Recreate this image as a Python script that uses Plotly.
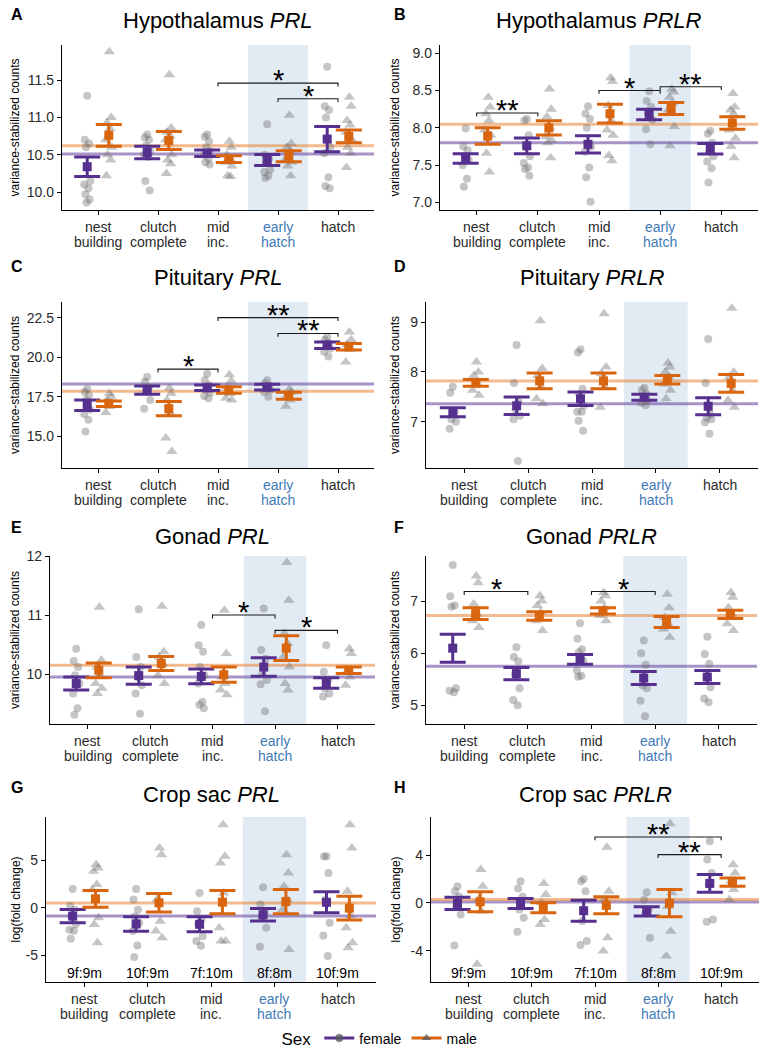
import plotly.graph_objects as go

W, H = 762, 1051
FONT = "Liberation Sans, Arial, Helvetica, sans-serif"

# ---------------- categories / labels ----------------
stage_labels = [["nest", "building"], ["clutch", "complete"], ["mid", "inc."], ["early", "hatch"], ["hatch"]]
highlight_stage = 3
count_labels = ["9f:9m", "10f:9m", "7f:10m", "8f:8m", "10f:9m"]
sex_labels = ["female", "male"]

# ---------------- A: Hypothalamus PRL ----------------
A_yticks = [10.0, 10.5, 11.0, 11.5]
A_f_mean = [10.34, 10.53, 10.52, 10.43, 10.71]
A_f_se = [0.13, 0.085, 0.045, 0.075, 0.17]
A_m_mean = [10.76, 10.69, 10.44, 10.48, 10.745]
A_m_se = [0.145, 0.12, 0.045, 0.075, 0.085]
A_hline = [10.51, 10.62]
A_f_pts = [[11.29, 10.70, 10.65, 10.60, 10.15, 10.10, 10.05, 9.97, 9.90, 9.86],
           [10.77, 10.73, 10.70, 10.62, 10.55, 10.50, 10.47, 10.15, 10.02],
           [10.77, 10.74, 10.68, 10.60, 10.55, 10.50, 10.45, 10.40, 10.37],
           [10.91, 10.50, 10.45, 10.40, 10.30, 10.27, 10.22, 10.19],
           [11.68, 11.15, 11.10, 11.00, 10.60, 10.52, 10.20, 10.08, 10.05]]
A_m_pts = [[11.88, 11.00, 10.93, 10.85, 10.70, 10.60, 10.50, 10.43, 10.22],
           [11.57, 10.86, 10.80, 10.75, 10.70, 10.50, 10.43, 10.38, 10.25],
           [10.68, 10.60, 10.50, 10.45, 10.40, 10.35, 10.22, 10.21],
           [11.03, 10.65, 10.60, 10.55, 10.45, 10.40, 10.35, 10.22],
           [11.27, 11.15, 10.96, 10.90, 10.80, 10.70, 10.60, 10.52, 10.33]]
A_sig = [(3, 5, 11.46, "*"), (4, 5, 11.25, "*")]

# ---------------- B: Hypothalamus PRLR ----------------
B_yticks = [7.0, 7.5, 8.0, 8.5, 9.0]
B_f_mean = [7.59, 7.76, 7.78, 8.18, 7.72]
B_f_se = [0.065, 0.105, 0.115, 0.07, 0.07]
B_m_mean = [7.89, 8.00, 8.19, 8.26, 8.065]
B_m_se = [0.11, 0.095, 0.125, 0.08, 0.085]
B_hline = [7.80, 8.05]
B_f_pts = [[7.99, 7.75, 7.70, 7.62, 7.57, 7.50, 7.32, 7.21],
           [8.12, 8.10, 7.90, 7.75, 7.62, 7.53, 7.47, 7.45, 7.36],
           [8.29, 8.19, 8.12, 8.00, 7.75, 7.68, 7.47, 7.34, 7.01],
           [8.49, 8.36, 8.28, 8.20, 8.11, 7.98, 7.78],
           [7.96, 7.92, 7.80, 7.68, 7.62, 7.55, 7.46, 7.27]]
B_m_pts = [[8.41, 8.28, 8.19, 8.10, 7.97, 7.90, 7.66, 7.41],
           [8.52, 8.25, 8.15, 8.00, 7.88, 7.83, 7.80, 7.60],
           [8.67, 8.62, 8.30, 8.10, 7.97, 7.90, 7.63, 7.56],
           [8.52, 8.48, 8.41, 8.33, 8.24, 8.02, 7.76],
           [8.46, 8.28, 8.24, 8.19, 7.97, 7.86, 7.75, 7.60]]
B_sig = [(1, 2, 8.20, "**"), (3, 4, 8.50, "*"), (4, 5, 8.55, "**")]

# ---------------- C: Pituitary PRL ----------------
C_yticks = [15.0, 17.5, 20.0, 22.5]
C_f_mean = [16.97, 17.92, 18.07, 18.11, 20.76]
C_f_se = [0.33, 0.26, 0.18, 0.18, 0.21]
C_m_mean = [17.06, 16.75, 17.93, 17.57, 20.66]
C_m_se = [0.18, 0.45, 0.21, 0.22, 0.21]
C_hline = [18.31, 17.85]
C_f_pts = [[18.0, 17.8, 17.6, 17.3, 16.7, 16.4, 16.05, 15.3],
           [18.75, 18.45, 18.1, 17.85, 17.3, 16.75],
           [18.95, 18.55, 18.25, 17.95, 17.75, 17.55, 17.4],
           [18.55, 18.35, 18.2, 18.1, 17.95, 17.8, 17.5],
           [21.3, 21.1, 20.9, 20.7, 20.55, 20.35, 20.05]]
C_m_pts = [[17.7, 17.5, 17.3, 16.9, 16.5],
           [18.05, 17.7, 17.3, 16.5, 14.9, 14.05],
           [18.9, 18.5, 18.1, 17.7, 17.4, 17.3],
           [18.0, 17.8, 17.6, 17.3, 16.9],
           [21.6, 21.1, 20.8, 20.5, 19.7]]
C_sig = [(2, 3, 19.25, "*"), (3, 5, 22.5, "**"), (4, 5, 21.5, "**")]

# ---------------- D: Pituitary PRLR ----------------
D_yticks = [7, 8, 9]
D_f_mean = [7.19, 7.32, 7.46, 7.49, 7.31]
D_f_se = [0.09, 0.175, 0.135, 0.06, 0.17]
D_m_mean = [7.78, 7.82, 7.82, 7.845, 7.77]
D_m_se = [0.07, 0.16, 0.16, 0.085, 0.18]
D_hline = [7.36, 7.82]
D_f_pts = [[7.70, 7.58, 7.20, 7.05, 7.00, 6.86],
           [8.54, 7.78, 7.40, 7.25, 7.12, 7.05, 6.21],
           [8.45, 8.39, 7.66, 7.55, 7.32, 7.20, 7.20, 7.02, 6.82],
           [7.68, 7.63, 7.56, 7.50, 7.43, 7.38, 7.33],
           [8.66, 7.78, 7.15, 7.08, 7.05, 6.99, 6.76]]
D_m_pts = [[8.20, 8.00, 7.93, 7.76, 7.63, 7.53],
           [9.03, 8.07, 7.93, 7.70, 7.46, 7.36],
           [9.17, 8.10, 7.97, 7.70, 7.29],
           [8.18, 8.10, 8.00, 7.90, 7.76, 7.63, 7.46],
           [9.28, 8.00, 7.90, 7.63, 7.43, 7.29]]
D_sig = []

# ---------------- E: Gonad PRL ----------------
E_yticks = [10, 11, 12]
E_f_mean = [9.84, 9.975, 9.96, 10.12, 9.85]
E_f_se = [0.11, 0.145, 0.125, 0.155, 0.09]
E_m_mean = [10.065, 10.18, 9.99, 10.44, 10.065]
E_m_se = [0.125, 0.12, 0.13, 0.21, 0.055]
E_hline = [9.95, 10.15]
E_f_pts = [[10.43, 10.22, 10.12, 9.98, 9.84, 9.67, 9.42, 9.31],
           [11.10, 10.29, 10.12, 9.95, 9.81, 9.67, 9.33],
           [10.83, 10.49, 10.38, 10.12, 9.98, 9.84, 9.53, 9.48, 9.42],
           [11.11, 10.41, 10.26, 10.01, 9.90, 9.83, 9.37],
           [10.49, 10.04, 9.90, 9.76, 9.67, 9.62]]
E_m_pts = [[11.13, 10.24, 10.12, 9.98, 9.84, 9.76, 9.67],
           [11.15, 10.38, 10.29, 10.18, 9.98, 9.84],
           [11.08, 10.35, 9.95, 9.84, 9.73, 9.65],
           [11.89, 11.25, 10.69, 10.52, 10.29, 10.12, 9.84, 9.73],
           [10.43, 10.35, 10.04, 9.95, 9.81]]
E_sig = [(3, 4, 11.0, "*"), (4, 5, 10.74, "*")]

# ---------------- F: Gonad PRLR ----------------
F_yticks = [5, 6, 7]
F_f_mean = [6.10, 5.61, 5.885, 5.525, 5.545]
F_f_se = [0.27, 0.12, 0.095, 0.125, 0.125]
F_m_mean = [6.765, 6.72, 6.82, 6.605, 6.75]
F_m_se = [0.115, 0.08, 0.06, 0.105, 0.08]
F_hline = [5.75, 6.73]
F_f_pts = [[7.70, 7.10, 6.92, 6.90, 5.33, 5.28, 5.25],
           [6.12, 5.93, 5.85, 5.60, 5.33, 5.10, 5.00],
           [6.58, 6.28, 6.08, 6.02, 5.86, 5.67, 5.57, 5.55],
           [6.25, 6.00, 5.78, 5.38, 5.33, 5.09, 4.79],
           [6.32, 5.99, 5.80, 5.54, 5.35, 5.13, 5.06]]
F_m_pts = [[7.49, 7.36, 6.95, 6.76, 6.63, 6.50],
           [7.11, 7.01, 6.92, 6.79, 6.63, 6.44],
           [7.17, 7.11, 7.01, 6.88, 6.73, 6.63],
           [7.14, 6.88, 6.69, 6.57, 6.47, 6.31],
           [7.17, 7.08, 6.88, 6.76, 6.57, 6.44]]
F_sig = [(1, 2, 7.19, "*"), (3, 4, 7.19, "*")]

# ---------------- G: Crop sac PRL ----------------
G_yticks = [-5, 0, 5]
G_f_mean = [-0.87, -1.70, -1.73, -0.73, 0.58]
G_f_se = [0.70, 0.755, 0.79, 0.665, 1.10]
G_m_mean = [0.945, 0.53, 0.60, 0.65, -0.035]
G_m_se = [0.875, 0.975, 1.225, 1.275, 1.255]
G_hline = [-0.87, 0.52]
G_f_pts = [[1.99, 0.2, -0.2, -0.9, -1.7, -2.3, -2.4, -3.25],
           [1.99, 0.87, -0.2, -0.9, -1.6, -2.45, -3.95, -5.17],
           [1.57, -0.35, -1.2, -1.75, -3.0, -3.5, -4.0],
           [2.17, 0.35, -0.5, -1.05, -2.1, -4.1],
           [5.42, 5.40, 3.67, 0.87, -1.57, -2.9, -5.07]]
G_m_pts = [[4.55, 4.2, 3.85, 2.45, 1.9, -1.05, -1.75, -3.67],
           [6.29, 5.59, 0.87, -1.4, -2.45, -3.15],
           [8.74, 5.42, 4.72, 1.57, -2.1, -3.5, -3.5],
           [5.59, 3.67, 2.27, 0.87, -0.17, -4.37],
           [8.74, 6.29, 1.75, -0.87, -2.1, -3.67, -4.2]]
G_sig = []

# ---------------- H: Crop sac PRLR ----------------
H_yticks = [-4, 0, 4]
H_f_mean = [-0.05, -0.055, -0.66, -0.72, 1.63]
H_f_se = [0.515, 0.415, 0.875, 0.39, 0.74]
H_m_mean = [0.085, -0.42, -0.21, -0.03, 1.74]
H_m_se = [0.835, 0.42, 0.71, 1.14, 0.35]
H_hline = [0.08, 0.28]
H_f_pts = [[1.39, 0.97, 0.5, -0.28, -0.97, -3.57],
           [1.81, 1.2, 0.5, -0.56, -1.25, -2.42],
           [2.0, 1.81, 0.97, -1.53, -3.2, -3.54],
           [0.89, 0.25, -0.56, -0.9, -2.92],
           [5.15, 3.62, 2.5, 1.53, -1.39, -1.59]]
H_m_pts = [[2.79, 1.39, 0.28, -0.7, -5.15],
           [1.62, 0.7, 0.0, -1.39, -1.81],
           [4.65, 0.97, 0.28, -2.92, -4.04],
           [6.63, 0.84, -0.3, -2.37, -4.46],
           [3.2, 2.5, 1.81, 1.11, 0.28]]
H_sig = [(3, 5, 5.52, "**"), (4, 5, 4.04, "**")]

# ---------------- styling / layout ----------------
COL_F = "#56308f"
COL_M = "#d9650e"
HL_F = "rgba(94,60,153,0.55)"
HL_M = "rgba(232,130,50,0.55)"
PT_COL = "rgba(110,110,110,0.40)"
SHADE = "#e2eaf4"
HILITE = "#3f7ab8"
DODGE = 0.18
JIT_F = [0.0, -0.04, 0.03, -0.02, 0.05, -0.05, 0.02, -0.03, 0.04, -0.01]
JIT_M = [0.01, 0.04, -0.03, 0.02, -0.05, 0.05, -0.02, 0.03, -0.04, 0.0]

VST = "variance-stabilized counts"
LFC = "log(fold change)"

panels = [
    dict(letter="A", tissue="Hypothalamus", gene="PRL", box=(62, 374, 45, 210), yr=[9.76, 11.97],
         yt=A_yticks, fmt="{:.1f}", ytitle=VST, fm=A_f_mean, fs=A_f_se, mm=A_m_mean, ms=A_m_se,
         hl=A_hline, fp=A_f_pts, mp=A_m_pts, sig=A_sig, counts=False),
    dict(letter="B", tissue="Hypothalamus", gene="PRLR", box=(440, 758, 45, 210), yr=[6.90, 9.11],
         yt=B_yticks, fmt="{:.1f}", ytitle=VST, fm=B_f_mean, fs=B_f_se, mm=B_m_mean, ms=B_m_se,
         hl=B_hline, fp=B_f_pts, mp=B_m_pts, sig=B_sig, counts=False),
    dict(letter="C", tissue="Pituitary", gene="PRL", box=(62, 374, 302, 468), yr=[13.0, 23.49],
         yt=C_yticks, fmt="{:.1f}", ytitle=VST, fm=C_f_mean, fs=C_f_se, mm=C_m_mean, ms=C_m_se,
         hl=C_hline, fp=C_f_pts, mp=C_m_pts, sig=C_sig, counts=False),
    dict(letter="D", tissue="Pituitary", gene="PRLR", box=(426, 758, 302, 468), yr=[6.07, 9.405],
         yt=D_yticks, fmt="{:g}", ytitle=VST, fm=D_f_mean, fs=D_f_se, mm=D_m_mean, ms=D_m_se,
         hl=D_hline, fp=D_f_pts, mp=D_m_pts, sig=D_sig, counts=False),
    dict(letter="E", tissue="Gonad", gene="PRL", box=(50, 375, 556, 724), yr=[9.155, 12.0],
         yt=E_yticks, fmt="{:g}", ytitle=VST, fm=E_f_mean, fs=E_f_se, mm=E_m_mean, ms=E_m_se,
         hl=E_hline, fp=E_f_pts, mp=E_m_pts, sig=E_sig, counts=False),
    dict(letter="F", tissue="Gonad", gene="PRLR", box=(426, 757, 556, 724), yr=[4.64, 7.875],
         yt=F_yticks, fmt="{:g}", ytitle=VST, fm=F_f_mean, fs=F_f_se, mm=F_m_mean, ms=F_m_se,
         hl=F_hline, fp=F_f_pts, mp=F_m_pts, sig=F_sig, counts=False),
    dict(letter="G", tissue="Crop sac", gene="PRL", box=(46, 376, 817, 982), yr=[-7.8, 9.55],
         yt=G_yticks, fmt="{:g}", ytitle=LFC, fm=G_f_mean, fs=G_f_se, mm=G_m_mean, ms=G_m_se,
         hl=G_hline, fp=G_f_pts, mp=G_m_pts, sig=G_sig, counts=True),
    dict(letter="H", tissue="Crop sac", gene="PRLR", box=(431, 759, 817, 982), yr=[-6.63, 7.19],
         yt=H_yticks, fmt="{:g}", ytitle=LFC, fm=H_f_mean, fs=H_f_se, mm=H_m_mean, ms=H_m_se,
         hl=H_hline, fp=H_f_pts, mp=H_m_pts, sig=H_sig, counts=True),
]

cats = list(range(1, len(stage_labels) + 1))

fig = go.Figure()
layout_axes = {}
annotations = []
shapes = []

for k, p in enumerate(panels, start=1):
    sfx = "" if k == 1 else str(k)
    xr, yr_ = "x" + sfx, "y" + sfx
    l, r, t, b = p["box"]
    layout_axes["xaxis" + sfx] = dict(
        domain=[l / W, r / W], anchor=yr_, range=[0.4, 5.6], tickvals=cats, showticklabels=False,
        showline=True, linecolor="black", linewidth=1.3, ticks="outside", ticklen=4,
        tickcolor="black", tickwidth=1, showgrid=False, zeroline=False)
    layout_axes["yaxis" + sfx] = dict(
        domain=[1 - b / H, 1 - t / H], anchor=xr, range=p["yr"], tickvals=p["yt"],
        ticktext=[p["fmt"].format(v) for v in p["yt"]],
        showline=True, linecolor="black", linewidth=1.3, ticks="outside", ticklen=4,
        tickcolor="black", tickwidth=1, showgrid=False, zeroline=False,
        tickfont=dict(size=14, color="#2a2a2a", family=FONT))

    # category labels (two tight lines, like ggplot)
    for ci, lines in enumerate(stage_labels):
        col = HILITE if ci == highlight_stage else "#2a2a2a"
        for li, txt in enumerate(lines):
            annotations.append(dict(x=cats[ci], y=1 - (b + 17 + 14.5 * li) / H, xref=xr, yref="paper",
                                    text=txt, showarrow=False, xanchor="center", yanchor="middle",
                                    font=dict(size=14, color=col, family=FONT)))

    # early-hatch highlight band
    shapes.append(dict(type="rect", xref=xr, yref=yr_ + " domain", x0=3.5, x1=4.5, y0=0, y1=1,
                       fillcolor=SHADE, line=dict(width=0), layer="below"))
    # overall sex means
    for val, col in zip(p["hl"], [HL_F, HL_M]):
        shapes.append(dict(type="line", xref=xr + " domain", yref=yr_, x0=0, x1=1, y0=val, y1=val,
                           line=dict(color=col, width=3), layer="below"))

    # individual points
    for pts, off, jit, sym, sz in [(p["fp"], -DODGE, JIT_F, "circle", 8), (p["mp"], DODGE, JIT_M, "triangle-up", 10)]:
        xs, ys = [], []
        for ci, grp in enumerate(pts):
            for j, v in enumerate(grp):
                xs.append(cats[ci] + off + jit[j % len(jit)])
                ys.append(v)
        fig.add_trace(go.Scatter(x=xs, y=ys, xaxis=xr, yaxis=yr_, mode="markers", showlegend=False,
                                 hoverinfo="skip",
                                 marker=dict(symbol=sym, size=sz, color=PT_COL, line=dict(width=0))))

    # mean +/- SE
    for mean, se, off, col in [(p["fm"], p["fs"], -DODGE, COL_F), (p["mm"], p["ms"], DODGE, COL_M)]:
        fig.add_trace(go.Scatter(
            x=[c + off for c in cats], y=mean, xaxis=xr, yaxis=yr_, mode="markers", showlegend=False,
            marker=dict(symbol="square", size=9, color=col),
            error_y=dict(type="data", array=se, visible=True, thickness=3, width=13, color=col)))

    # significance brackets
    span = p["yr"][1] - p["yr"][0]
    tip = 0.02 * span
    for x1, x2, yb, lab in p["sig"]:
        fig.add_trace(go.Scatter(x=[x1, x1, x2, x2], y=[yb - tip, yb, yb, yb - tip], xaxis=xr, yaxis=yr_,
                                 mode="lines", showlegend=False, hoverinfo="skip",
                                 line=dict(color="#1a1a1a", width=1.1)))
        annotations.append(dict(x=(x1 + x2) / 2, y=yb, xref=xr, yref=yr_, text=lab, showarrow=False,
                                yanchor="middle", yshift=3,
                                font=dict(size=29, color="black", family=FONT)))

    # count labels
    if p["counts"]:
        for ci, txt in enumerate(count_labels):
            annotations.append(dict(x=cats[ci], y=0, xref=xr, yref=yr_ + " domain", text=txt,
                                    showarrow=False, yanchor="bottom", yshift=-1,
                                    font=dict(size=14, color="black", family=FONT)))

    # panel title, letter, y-axis title
    row_title_y = {45: 21, 302: 277, 556: 536, 817: 794}[t]
    row_letter_y = {45: 15, 302: 266, 556: 527, 817: 787}[t]
    annotations.append(dict(x=(l + r) / 2 / W, y=1 - row_title_y / H, xref="paper", yref="paper",
                            text="%s <i>%s</i>" % (p["tissue"], p["gene"]), showarrow=False,
                            xanchor="center", yanchor="middle",
                            font=dict(size=22, color="black", family=FONT)))
    left_col = l < 300
    annotations.append(dict(x=(9 if left_col else 392) / W, y=1 - row_letter_y / H, xref="paper", yref="paper",
                            text="<b>%s</b>" % p["letter"], showarrow=False, xanchor="left", yanchor="middle",
                            font=dict(size=16, color="black", family=FONT)))
    annotations.append(dict(x=(15 if left_col else 395) / W, y=1 - (t + b) / 2 / H, xref="paper", yref="paper",
                            text=p["ytitle"], showarrow=False, textangle=-90, xanchor="center",
                            yanchor="middle", font=dict(size=12, color="black", family=FONT)))

# legend entries
for name, col, sym in [(sex_labels[0], COL_F, "circle"), (sex_labels[1], COL_M, "triangle-up")]:
    fig.add_trace(go.Scatter(x=[None], y=[None], mode="lines+markers", name=name,
                             line=dict(color=col, width=3),
                             marker=dict(symbol=sym, size=8, color="rgba(90,90,90,0.8)")))

fig.update_layout(
    width=W, height=H, margin=dict(l=0, r=0, t=0, b=0, autoexpand=False),
    paper_bgcolor="white", plot_bgcolor="rgba(0,0,0,0)",
    font=dict(family=FONT, color="black"),
    annotations=annotations, shapes=shapes,
    showlegend=True,
    legend=dict(orientation="h", x=0.5, xanchor="center", y=1 - 1039 / H, yanchor="middle",
                title=dict(text="Sex", font=dict(size=17, family=FONT)),
                font=dict(size=14, family=FONT), itemwidth=30, bgcolor="rgba(0,0,0,0)"),
    **layout_axes,
)

fig.write_html("out.html")
